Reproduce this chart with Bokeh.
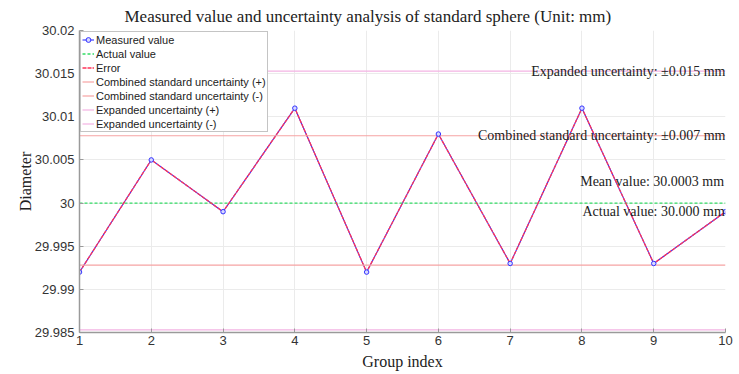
from bokeh.plotting import figure
from bokeh.models import FixedTicker, Legend, Label
from bokeh.embed import file_html
from bokeh.resources import INLINE

group_index = [1, 2, 3, 4, 5, 6, 7, 8, 9, 10]
measured = [29.992, 30.005, 29.999, 30.011, 29.992, 30.008, 29.993, 30.011, 29.993, 29.999]
error_series = [29.992, 30.005, 29.999, 30.011, 29.992, 30.008, 29.993, 30.011, 29.993, 29.999]
actual_value = 30.000
mean_value = 30.0003
combined_upper = 30.0078
combined_lower = 29.9928
expanded_upper = 30.0153
expanded_lower = 29.9853
line_x = [1, 10]

x_ticks = [1, 2, 3, 4, 5, 6, 7, 8, 9, 10]
y_ticks = [29.985, 29.99, 29.995, 30.0, 30.005, 30.01, 30.015, 30.02]
y_tick_labels = ["29.985", "29.99", "29.995", "30", "30.005", "30.01", "30.015", "30.02"]
title_text = "Measured value and uncertainty analysis of standard sphere (Unit: mm)"

SERIF = "Liberation Serif"
SANS = "Liberation Sans"

p = figure(width=739, height=374, output_backend="svg", toolbar_location=None,
           x_range=(1, 10), y_range=(29.985, 30.02), title=title_text,
           min_border_left=79, min_border_right=14, min_border_bottom=42, min_border_top=0)

p.title.text_font = SERIF
p.title.text_font_size = "17px"
p.title.text_font_style = "normal"
p.title.align = "left"
p.title.offset = 45
p.title.standoff = 9
p.title.text_color = "#222222"

p.outline_line_color = None
p.background_fill_color = "white"

for ax in (p.xaxis[0], p.yaxis[0]):
    ax.axis_line_color = "#9a9a9a"
    ax.axis_line_width = 1.5
    ax.major_tick_in = 4
    ax.major_tick_out = 0
    ax.minor_tick_line_color = None
    ax.major_tick_line_color = "#9a9a9a"
    ax.major_label_text_font = SANS
    ax.major_label_text_font_size = "13px"
    ax.major_label_text_color = "#333333"
    ax.axis_label_text_font = SERIF
    ax.axis_label_text_font_size = "16px"
    ax.axis_label_text_font_style = "normal"
    ax.axis_label_text_color = "#222222"

p.xaxis.ticker = FixedTicker(ticks=x_ticks)
p.yaxis.ticker = FixedTicker(ticks=y_ticks)
p.yaxis.major_label_overrides = {t: l for t, l in zip(y_ticks, y_tick_labels)}
p.xaxis.axis_label = "Group index"
p.yaxis.axis_label = "Diameter"
p.xaxis.major_label_standoff = 3
p.xaxis.axis_label_standoff = 5
p.yaxis.major_label_standoff = 5
p.yaxis.axis_label_standoff = -2

p.xgrid.grid_line_color = "#ebebeb"
p.ygrid.grid_line_color = "#ebebeb"

# lines
r_meas_line = p.line(group_index, measured, line_color="#3030ff", line_width=1.1)
r_meas_pt = p.scatter(group_index, measured, marker="circle", size=4.5,
                      line_color="#3333ff", fill_color="#d8d8ff", line_width=1)
r_actual = p.line(line_x, [actual_value, actual_value], line_color="#33dd66",
                  line_width=1.3, line_dash="3 2")
r_err = p.line(group_index, error_series, line_color="#ff3358", line_width=1.3,
               line_dash="4 1")
r_cu = p.line(line_x, [combined_upper, combined_upper], line_color="#f6a3a3", line_width=1.2)
r_cl = p.line(line_x, [combined_lower, combined_lower], line_color="#f6a3a3", line_width=1.2)
r_eu = p.line(line_x, [expanded_upper, expanded_upper], line_color="#f3b3e3", line_width=1.2)
r_el = p.line(line_x, [expanded_lower, expanded_lower], line_color="#f3b3e3", line_width=1.2)

p.renderers.remove(r_meas_pt)
p.renderers.append(r_meas_pt)

legend = Legend(items=[
    ("Measured value", [r_meas_line, r_meas_pt]),
    ("Actual value", [r_actual]),
    ("Error", [r_err]),
    ("Combined standard uncertainty (+)", [r_cu]),
    ("Combined standard uncertainty (-)", [r_cl]),
    ("Expanded uncertainty (+)", [r_eu]),
    ("Expanded uncertainty (-)", [r_el]),
], location="top_left")
legend.margin = 1
legend.padding = 1
legend.spacing = 1
legend.label_text_font = SANS
legend.label_text_font_size = "11px"
legend.label_text_color = "#222222"
legend.label_height = 13
legend.glyph_height = 13
legend.glyph_width = 12
legend.label_standoff = 2
legend.border_line_color = "#8a8a8a"
legend.border_line_width = 1
legend.background_fill_color = "white"
legend.background_fill_alpha = 1
p.add_layout(legend)

annotations = [
    (10, expanded_upper, "Expanded uncertainty: \u00b10.015 mm"),
    (10, combined_upper, "Combined standard uncertainty: \u00b10.007 mm"),
    (9.98, 30.00245, "Mean value: 30.0003 mm"),
    (9.99, 29.99905, "Actual value: 30.000 mm"),
]
for ax_, ay_, txt in annotations:
    p.add_layout(Label(x=ax_, y=ay_, text=txt, text_align="right", text_baseline="middle",
                       text_font=SERIF, text_font_size="14px", text_color="#222222"))

open("out.html", "w").write(file_html(p, INLINE))
